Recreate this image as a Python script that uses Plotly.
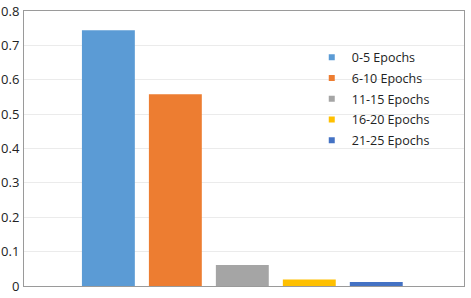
import plotly.graph_objects as go

categories = ["0-5 Epochs", "6-10 Epochs", "11-15 Epochs", "16-20 Epochs", "21-25 Epochs"]
values = [0.744, 0.558, 0.061, 0.019, 0.012]
colors = ["#5b9bd5", "#ed7d31", "#a5a5a5", "#ffc000", "#4472c4"]
y_ticks = [0, 0.1, 0.2, 0.3, 0.4, 0.5, 0.6, 0.7, 0.8]

fig = go.Figure()
for i, (name, v, c) in enumerate(zip(categories, values, colors)):
    fig.add_trace(go.Bar(x=[i], y=[v], width=0.79, marker=dict(color=c, line=dict(width=0)),
                         name=name, showlegend=False, legendgroup=name))
    fig.add_trace(go.Scatter(x=[None], y=[None], mode="markers", name=name, legendgroup=name,
                             marker=dict(symbol="square", size=6, color=c)))

fig.update_layout(
    width=471, height=298,
    margin=dict(l=24, r=7, t=11, b=12),
    paper_bgcolor="white", plot_bgcolor="white",
    barmode="overlay",
    font=dict(family="Open Sans", size=12, color="#222"),
    showlegend=True,
    legend=dict(x=0.654, y=0.885, xanchor="left", yanchor="top",
                bgcolor="rgba(0,0,0,0)", font=dict(size=12.5, color="#222"),
                itemwidth=30, tracegroupgap=1.5, traceorder="grouped"),
    xaxis=dict(range=[-1.26, 5.31], showticklabels=False, showgrid=False, zeroline=False,
               showline=True, linecolor="#9a9a9a", linewidth=1, mirror=True,
               fixedrange=True, automargin=False),
    yaxis=dict(range=[0, 0.8], tickvals=y_ticks, ticktext=[f"{t:g}" for t in y_ticks],
               showgrid=True, gridcolor="#ebebeb", gridwidth=1, zeroline=False,
               showline=True, linecolor="#9a9a9a", linewidth=1, mirror=True,
               tickfont=dict(size=13, color="#222"), ticks="", ticklabelstandoff=1,
               automargin=False),
)

fig.write_html("out.html", config={"displayModeBar": False},
               post_script="document.body.style.margin='0';")
